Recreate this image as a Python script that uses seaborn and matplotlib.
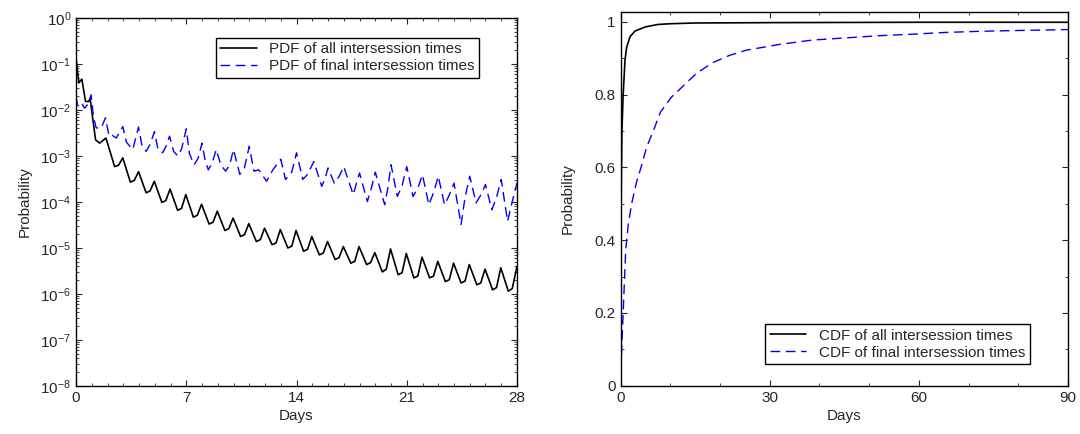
import numpy as np
import pandas as pd
import matplotlib
matplotlib.use("Agg")
import matplotlib.pyplot as plt
from matplotlib.ticker import MultipleLocator, FuncFormatter, LogLocator, FixedLocator, NullFormatter
import seaborn as sns

# ---------------- data ----------------
# Left panel: PDF of all intersession times (log10 of probability)
pdf_all_days = [0.0, 0.18, 0.37, 0.6, 0.78, 0.9, 1.07, 1.24, 1.5, 1.9,
                2.45, 2.7, 2.97, 3.45, 3.7, 3.97, 4.45, 4.7, 4.97, 5.45, 5.7, 5.97,
                6.45, 6.7, 6.97, 7.45, 7.7, 7.97, 8.45, 8.7, 8.97, 9.45, 9.7, 9.97,
                10.45, 10.7, 10.97, 11.45, 11.7, 11.97, 12.45, 12.7, 12.97,
                13.45, 13.7, 13.97, 14.45, 14.7, 14.97, 15.45, 15.7, 15.97,
                16.45, 16.7, 16.97, 17.45, 17.7, 17.97, 18.45, 18.7, 18.97,
                19.45, 19.7, 19.97, 20.45, 20.7, 20.97, 21.45, 21.7, 21.97,
                22.45, 22.7, 22.97, 23.45, 23.7, 23.97, 24.45, 24.7, 24.97,
                25.45, 25.7, 25.97, 26.45, 26.7, 26.97, 27.45, 27.7, 28.0]
pdf_all_log10 = [-0.87, -1.41, -1.33, -1.81, -1.82, -1.76, -2.21, -2.65, -2.72, -2.61,
                 -3.23, -3.20, -3.04, -3.57, -3.53, -3.34, -3.80, -3.76, -3.55,
                 -4.01, -3.97, -3.72, -4.18, -4.14, -3.84, -4.33, -4.29, -4.05,
                 -4.48, -4.44, -4.20, -4.62, -4.58, -4.35, -4.75, -4.71, -4.47,
                 -4.86, -4.82, -4.57, -4.93, -4.89, -4.60, -5.00, -4.96, -4.62,
                 -5.07, -5.03, -4.75, -5.15, -5.11, -4.86, -5.25, -5.21, -4.97,
                 -5.33, -5.29, -4.97, -5.36, -5.32, -5.10, -5.52, -5.46, -5.02,
                 -5.58, -5.54, -5.12, -5.65, -5.61, -5.20, -5.65, -5.61, -5.29,
                 -5.73, -5.69, -5.33, -5.76, -5.72, -5.36, -5.80, -5.76, -5.46,
                 -5.91, -5.86, -5.43, -5.94, -5.88, -5.40]

# Left panel: PDF of final intersession times (log10 of probability)
pdf_final_days = [0.0, 0.1, 0.22, 0.35, 0.54, 0.75, 0.96, 1.1, 1.28, 1.6, 1.87,
                  2.1, 2.3, 2.55, 2.97, 3.2, 3.6, 3.97, 4.2, 4.45, 4.7, 4.98,
                  5.2, 5.5, 5.7, 5.94, 6.2, 6.46, 6.7, 7.0, 7.2, 7.5, 7.75, 8.0,
                  8.2, 8.4, 8.65, 8.9, 9.2, 9.5, 9.75, 10.0, 10.4, 10.7, 11.0,
                  11.3, 11.6, 12.1, 12.5, 13.0, 13.3, 13.7, 14.0, 14.4, 14.7, 15.1,
                  15.6, 15.8, 16.0, 16.4, 16.7, 17.0, 17.6, 17.8, 18.0, 18.5, 18.75,
                  19.0, 19.6, 19.8, 20.0, 20.4, 20.7, 21.0, 21.4, 21.7, 22.0, 22.4,
                  22.7, 23.0, 23.4, 23.7, 24.0, 24.45, 24.7, 25.0, 25.4, 25.7, 26.0,
                  26.4, 26.7, 27.0, 27.4, 27.7, 28.0]
pdf_final_log10 = [-1.72, -1.90, -1.92, -1.85, -1.96, -1.88, -1.67, -2.14, -2.39, -2.39, -2.17,
                   -2.57, -2.55, -2.61, -2.36, -2.70, -2.86, -2.37, -2.80, -2.90, -2.75, -2.47,
                   -2.85, -2.93, -2.80, -2.57, -2.90, -3.00, -2.85, -2.41, -2.95, -3.19, -3.05, -2.72,
                   -3.10, -3.30, -3.15, -2.86, -3.20, -3.33, -3.20, -2.86, -3.40, -3.25, -2.79,
                   -3.33, -3.30, -3.55, -3.30, -3.07, -3.51, -3.35, -2.93, -3.51, -3.40, -3.12,
                   -3.66, -3.50, -3.26, -3.59, -3.45, -3.23, -3.84, -3.60, -3.37, -3.99, -3.70,
                   -3.35, -4.06, -3.70, -3.19, -3.88, -3.65, -3.23, -3.88, -3.70, -3.41, -4.06,
                   -3.80, -3.44, -4.06, -3.85, -3.59, -4.49, -3.90, -3.44, -4.02, -3.85, -3.62,
                   -4.17, -3.90, -3.51, -4.42, -3.99, -3.59]

# Right panel: CDFs
cdf_all_days = [0, 0.05, 0.12, 0.25, 0.5, 0.87, 1.2, 1.9, 2.9, 4.9, 7.5, 10, 15, 30, 60, 90]
cdf_all = [0.0, 0.30, 0.55, 0.70, 0.80, 0.895, 0.93, 0.96, 0.975, 0.986, 0.993, 0.995,
           0.997, 0.998, 0.999, 0.999]

cdf_final_days = [0, 0.2, 0.53, 1.0, 1.5, 2.2, 3.2, 4.2, 5.2, 6.7, 8.0, 10.2, 12.9, 15.2,
                  18.5, 21.9, 25.2, 31.9, 38.5, 45.2, 51.9, 58.5, 65.2, 71.9, 78.5, 90]
cdf_final = [0.0, 0.10, 0.21, 0.37, 0.44, 0.50, 0.56, 0.605, 0.655, 0.705, 0.752, 0.793,
             0.828, 0.858, 0.888, 0.908, 0.922, 0.938, 0.950, 0.956, 0.962, 0.966, 0.971,
             0.974, 0.976, 0.979]

labels_pdf = ["PDF of all intersession times", "PDF of final intersession times"]
labels_cdf = ["CDF of all intersession times", "CDF of final intersession times"]

# ---------------- styling ----------------
sns.set_style("ticks")
plt.rcParams["font.family"] = ["Liberation Sans", "DejaVu Sans"]
plt.rcParams["mathtext.fontset"] = "custom"
plt.rcParams["mathtext.rm"] = "Liberation Sans"
plt.rcParams["mathtext.it"] = "Liberation Sans:italic"
plt.rcParams["font.size"] = 11
plt.rcParams["axes.linewidth"] = 1.0
for ax_ in ("xtick", "ytick"):
    plt.rcParams[f"{ax_}.direction"] = "in"
    plt.rcParams[f"{ax_}.major.size"] = 4
    plt.rcParams[f"{ax_}.minor.size"] = 2
    plt.rcParams[f"{ax_}.labelsize"] = 11
plt.rcParams["xtick.top"] = True
plt.rcParams["ytick.right"] = True

BLUE = "#0000ff"
DASH = (0, (7, 4))

fig = plt.figure(figsize=(10.8, 4.34), dpi=100)
ax1 = fig.add_axes([0.0704, 0.1106, 0.4083, 0.848])
ax2 = fig.add_axes([0.5747, 0.1113, 0.4142, 0.8617])

# ---------------- left panel ----------------
df_all = pd.DataFrame({"day": pdf_all_days, "p": np.power(10.0, pdf_all_log10)})
df_fin = pd.DataFrame({"day": pdf_final_days, "p": np.power(10.0, pdf_final_log10)})
sns.lineplot(data=df_all, x="day", y="p", ax=ax1, color="black", lw=1.2,
             label=labels_pdf[0], estimator=None, sort=False)
sns.lineplot(data=df_fin, x="day", y="p", ax=ax1, color=BLUE, lw=1.0,
             linestyle=DASH, label=labels_pdf[1], estimator=None, sort=False)
ax1.set_yscale("log")
ax1.set_xlim(0, 28)
ax1.set_ylim(1e-8, 1e0)
ax1.xaxis.set_major_locator(MultipleLocator(7))
ax1.xaxis.set_minor_locator(MultipleLocator(1))
ax1.yaxis.set_major_locator(LogLocator(base=10, numticks=20))
ax1.yaxis.set_minor_locator(LogLocator(base=10, subs=np.arange(2, 10), numticks=20))
ax1.yaxis.set_minor_formatter(NullFormatter())
ax1.set_xlabel("Days", labelpad=3)
ax1.set_ylabel("Probability", labelpad=6)
ax1.tick_params(which="both", top=True, right=True, direction="in")
leg1 = ax1.legend(loc="upper right", bbox_to_anchor=(0.932, 0.967), frameon=True,
                  fancybox=False, edgecolor="black", framealpha=1, handlelength=2.4,
                  borderpad=0.3, labelspacing=0.2, fontsize=11)
leg1.get_frame().set_linewidth(1.0)

# ---------------- right panel ----------------
dc_all = pd.DataFrame({"day": cdf_all_days, "p": cdf_all})
dc_fin = pd.DataFrame({"day": cdf_final_days, "p": cdf_final})
sns.lineplot(data=dc_all, x="day", y="p", ax=ax2, color="black", lw=1.2,
             label=labels_cdf[0], estimator=None, sort=False)
sns.lineplot(data=dc_fin, x="day", y="p", ax=ax2, color=BLUE, lw=1.0,
             linestyle=DASH, label=labels_cdf[1], estimator=None, sort=False)
ax2.set_xlim(0, 90)
ax2.set_ylim(0, 1.028)
ax2.xaxis.set_major_locator(FixedLocator([0, 30, 60, 90]))
ax2.xaxis.set_minor_locator(MultipleLocator(10))
ax2.yaxis.set_major_locator(FixedLocator([0, 0.2, 0.4, 0.6, 0.8, 1.0]))
ax2.yaxis.set_minor_locator(MultipleLocator(0.1))
ax2.yaxis.set_major_formatter(FuncFormatter(lambda v, _: f"{v:g}"))
ax2.set_xlabel("Days", labelpad=3)
ax2.set_ylabel("Probability", labelpad=14)
ax2.tick_params(which="both", top=True, right=True, direction="in")
leg2 = ax2.legend(loc="lower right", bbox_to_anchor=(0.931, 0.037), frameon=True,
                  fancybox=False, edgecolor="black", framealpha=1, handlelength=2.4,
                  borderpad=0.3, labelspacing=0.2, fontsize=11)
leg2.get_frame().set_linewidth(1.0)

for ax in (ax1, ax2):
    for s in ax.spines.values():
        s.set_color("black")
        s.set_visible(True)

fig.savefig("out.png", dpi=100)
